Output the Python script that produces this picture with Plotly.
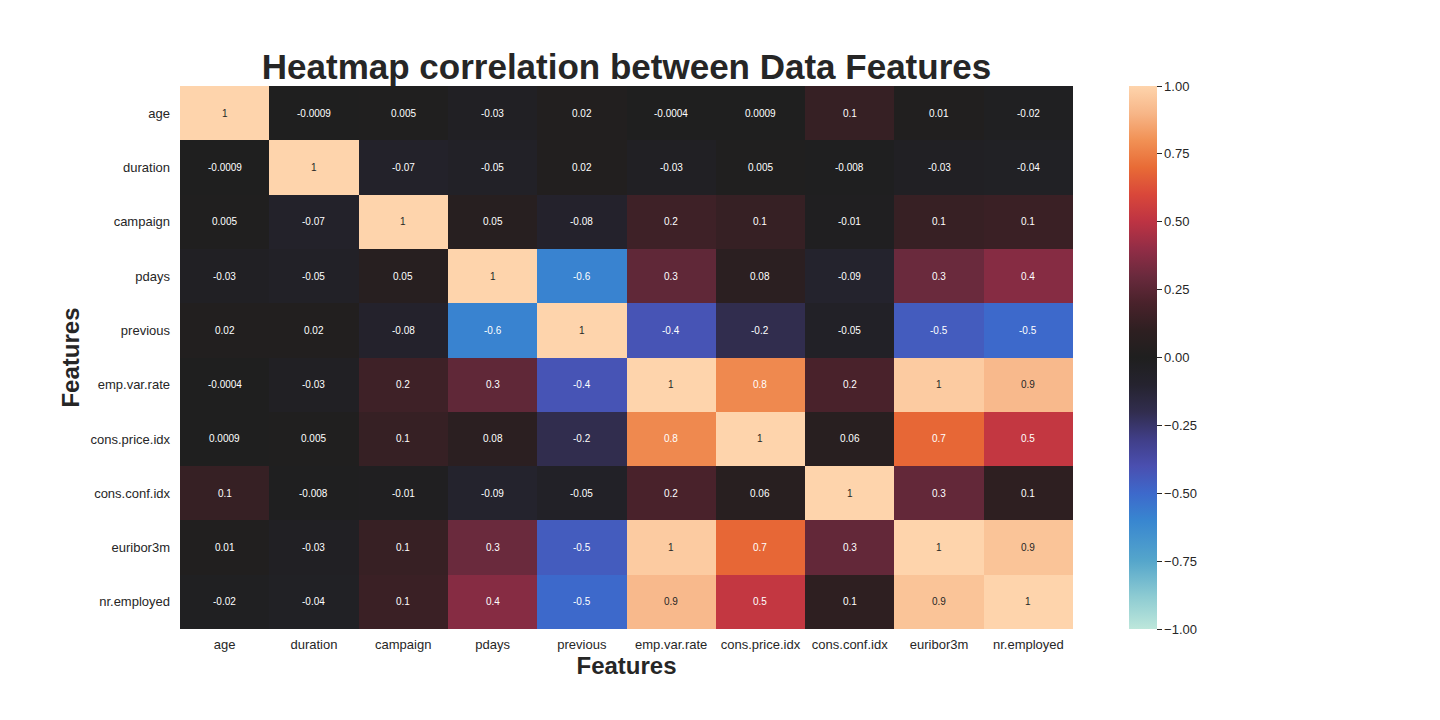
import plotly.graph_objects as go

# features in the order of the matrix
features = ["age", "duration", "campaign", "pdays", "previous", "emp.var.rate",
            "cons.price.idx", "cons.conf.idx", "euribor3m", "nr.employed"]

# correlation rows
row_age = [1, -0.0009, 0.005, -0.03, 0.02, -0.0004, 0.0009, 0.13, 0.01, -0.02]
row_duration = [-0.0009, 1, -0.07, -0.05, 0.02, -0.03, 0.005, -0.008, -0.03, -0.04]
row_campaign = [0.005, -0.07, 1, 0.05, -0.08, 0.16, 0.13, -0.01, 0.135, 0.144]
row_pdays = [-0.03, -0.05, 0.05, 1, -0.59, 0.27, 0.08, -0.09, 0.3, 0.37]
row_previous = [0.02, 0.02, -0.08, -0.59, 1, -0.42, -0.2, -0.05, -0.45, -0.5]
row_emp = [-0.0004, -0.03, 0.16, 0.27, -0.42, 1, 0.78, 0.2, 0.97, 0.91]
row_price = [0.0009, 0.005, 0.13, 0.08, -0.2, 0.78, 1, 0.06, 0.69, 0.52]
row_conf = [0.13, -0.008, -0.01, -0.09, -0.05, 0.2, 0.06, 1, 0.28, 0.1]
row_euribor = [0.01, -0.03, 0.135, 0.3, -0.45, 0.97, 0.69, 0.28, 1, 0.945]
row_nr = [-0.02, -0.04, 0.144, 0.37, -0.5, 0.91, 0.52, 0.1, 0.945, 1]

corr = [row_age, row_duration, row_campaign, row_pdays, row_previous,
        row_emp, row_price, row_conf, row_euribor, row_nr]

cbar_ticks = [1.0, 0.75, 0.5, 0.25, 0.0, -0.25, -0.5, -0.75, -1.0]

# approximation of seaborn "icefire"
icefire = [
    [0.0, "#bde7db"], [0.06, "#8dcbd2"], [0.125, "#55a6cb"], [0.2, "#3886d0"],
    [0.25, "#3d69cb"], [0.3, "#4a4fb0"], [0.35, "#403e87"], [0.4, "#312d4e"],
    [0.45, "#25232f"], [0.5, "#1f1f1f"], [0.55, "#2e1f21"], [0.6, "#49222b"],
    [0.65, "#6a2a3d"], [0.7, "#922d46"], [0.75, "#bd3343"], [0.8, "#d9473a"],
    [0.85, "#e86b36"], [0.9, "#f19155"], [0.95, "#f7b688"], [1.0, "#fed4ac"],
]

FONT = "Liberation Sans, Arial, sans-serif"
W, H = 1440, 720
OFF = 8  # page body margin

fig = go.Figure(go.Heatmap(
    z=corr, x=features, y=features,
    zmin=-1, zmax=1, colorscale=icefire,
    colorbar=dict(
        x=(1129 - OFF) / W, xanchor="left", xpad=0, ypad=0,
        y=1 - (357.5 - OFF) / H, yanchor="middle",
        len=543, lenmode="pixels", thickness=28, outlinewidth=0,
        tickvals=cbar_ticks, tickformat=".2f", ticks="outside", ticklen=5,
        tickcolor="#262626", tickfont=dict(size=13, color="#262626", family=FONT),
    ),
    hoverinfo="skip",
))

# cell labels
for i, yname in enumerate(features):
    for j, xname in enumerate(features):
        v = corr[i][j]
        fig.add_annotation(
            x=xname, y=yname, text=f"{v:.1g}", showarrow=False,
            font=dict(size=10, family=FONT,
                      color="#262626" if v >= 0.85 else "white"),
        )

fig.update_layout(
    width=W, height=H,
    margin=dict(l=0, r=0, t=0, b=0),
    paper_bgcolor="white", plot_bgcolor="white",
    font=dict(family=FONT, color="#262626"),
    title=dict(text="<b>Heatmap correlation between Data Features</b>",
               x=(626.5 - OFF) / W, xanchor="center",
               y=1 - (67 - OFF) / H, yanchor="middle",
               font=dict(size=35, color="#262626", family=FONT)),
    xaxis=dict(domain=[(180 - OFF) / W, (1073 - OFF) / W], showgrid=False,
               zeroline=False, ticks="", ticklabelstandoff=6,
               tickfont=dict(size=13),
               title=dict(text="<b>Features</b>", font=dict(size=24), standoff=4)),
    yaxis=dict(domain=[1 - (629 - OFF) / H, 1 - (86 - OFF) / H],
               autorange="reversed", showgrid=False, zeroline=False,
               ticks="", ticklabelstandoff=9, tickfont=dict(size=13),
               title=dict(text="<b>Features</b>", font=dict(size=24), standoff=4)),
)

fig.write_html("out.html")
